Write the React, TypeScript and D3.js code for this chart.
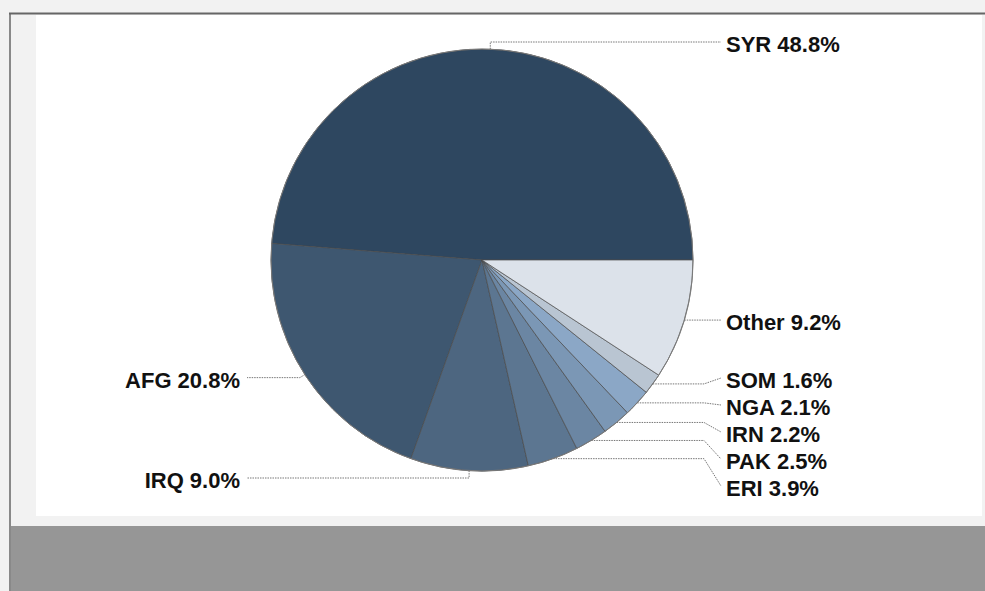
import React, { useEffect } from 'react';
import * as d3 from 'd3';

// shares of the total, in pie order (counter-clockwise from 3 o'clock)
const codes = ['SYR', 'AFG', 'IRQ', 'ERI', 'PAK', 'IRN', 'NGA', 'SOM', 'Other'];
const shares = [48.8, 20.8, 9.0, 3.9, 2.5, 2.2, 2.1, 1.6, 9.2];
const colors = ['#2e4760', '#3e5770', '#4d6680', '#5c7691', '#6b86a3', '#7b97b5', '#8ba7c6', '#b9c5d2', '#dce2ea'];

const W = 985;
const H = 591;
const cx = 482;
const cy = 260;
const r = 211;
const gap = 27;

const App = () => {
  useEffect(() => {
    document.body.style.margin = '0';
  }, []);

  const data = codes.map((c, i) => ({ code: c, value: shares[i], color: colors[i] }));

  const pie = d3.pie<any>()
    .value(d => d.value)
    .sort(null)
    .startAngle(Math.PI / 2)
    .endAngle(Math.PI / 2 - Math.PI * 2);

  const arc = d3.arc<any>().innerRadius(0).outerRadius(r);
  const arcs = pie(data);

  // label layout
  const labels = arcs.map(a => {
    const mid = (a.startAngle + a.endAngle) / 2;
    const px = cx + r * Math.sin(mid);
    const py = cy - r * Math.cos(mid);
    const right = Math.sin(mid) > 0;
    const vertical = Math.abs(Math.cos(mid)) > 0.97;
    let lineY = py;
    if (vertical) lineY = Math.cos(mid) > 0 ? cy - r - 7 : cy + r + 7;
    return { code: a.data.code, value: a.data.value, px, py, right, vertical, lineY };
  });

  // spread the right-hand stack so labels don't collide
  const stack = labels.filter(l => l.right && !l.vertical).sort((a, b) => a.py - b.py);
  for (let i = 1; i < stack.length; i++) {
    stack[i].lineY = Math.max(stack[i].lineY, stack[i - 1].lineY + gap);
  }
  const bottomLimit = cy + r + 15;
  for (let i = stack.length - 1; i >= 0; i--) {
    const lim = i === stack.length - 1 ? bottomLimit : stack[i + 1].lineY - gap;
    stack[i].lineY = Math.min(stack[i].lineY, lim);
  }
  labels.forEach(l => {
    if (!l.right && !l.vertical) l.lineY = l.py + 3;
  });

  const leader = l => {
    const p = d3.path();
    p.moveTo(l.px, l.py);
    if (l.right) {
      if (l.vertical) {
        p.lineTo(l.px, l.lineY);
      } else if (Math.abs(l.lineY - l.py) > 1) {
        p.lineTo(704, l.py);
      }
      p.lineTo(721, l.lineY);
    } else {
      if (l.vertical) p.lineTo(l.px, l.lineY);
      else p.lineTo(l.px - 5, l.lineY);
      p.lineTo(247, l.lineY);
    }
    return p.toString();
  };

  return (
    <svg width={W} height={H} style={{ display: 'block' }}>
      <rect x={0} y={0} width={W} height={H} fill="#f2f2f2" />
      <rect x={36} y={15} width={946} height={501} fill="#ffffff" />
      <rect x={11} y={526} width={W - 11} height={H - 526} fill="#969696" />
      <line x1={9} x2={W} y1={13.5} y2={13.5} stroke="#666" strokeWidth={2} />
      <line x1={10} x2={10} y1={13} y2={H} stroke="#666" strokeWidth={1.5} />

      <g transform={`translate(${cx},${cy})`}>
        {arcs.map(a => (
          <path key={a.data.code} d={arc(a)} fill={a.data.color} stroke="#4a4a4a" strokeWidth={0.7} />
        ))}
        <circle r={r} fill="none" stroke="#7a7a7a" strokeWidth={1} />
      </g>

      {labels.map(l => (
        <g key={l.code}>
          <path d={leader(l)} fill="none" stroke="#777" strokeWidth={1} strokeDasharray="1.5,1" />
          <text
            x={l.right ? 726 : 240}
            y={l.lineY + 10.4}
            textAnchor={l.right ? 'start' : 'end'}
            fontFamily="'Liberation Sans', Arial, sans-serif"
            fontWeight="bold"
            fontSize={22}
            fill="#111"
          >
            {`${l.code} ${l.value.toFixed(1)}%`}
          </text>
        </g>
      ))}
    </svg>
  );
};

export default App;
